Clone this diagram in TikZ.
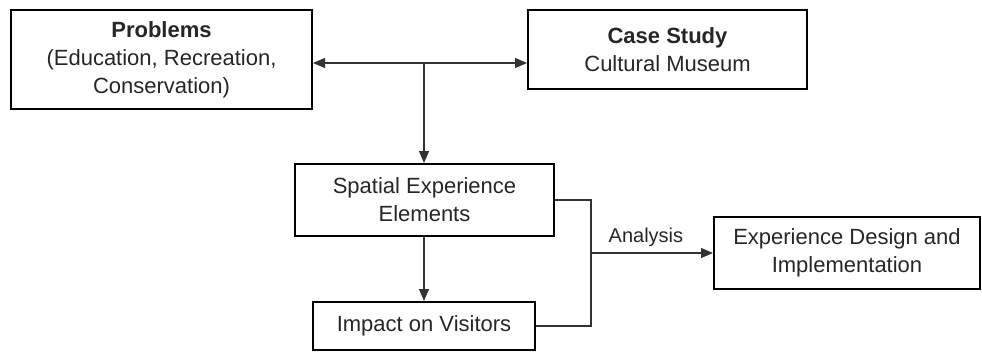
\documentclass[tikz,border=0pt]{standalone}
\usepackage{fontspec}
\setmainfont{Liberation Sans}
\usetikzlibrary{arrows.meta}
\begin{document}
\begin{tikzpicture}[x=1pt,y=-1pt,
  box/.style={draw=black,line width=2pt,align=center,inner sep=0pt,
    font=\fontsize{22}{28}\selectfont,text=black!85},
  conn/.style={draw=black!80,line width=1.1pt},
  arr/.style={conn,-{Triangle[length=12pt,width=10pt]}},
  darr/.style={conn,{Triangle[length=12pt,width=10pt]}-{Triangle[length=12pt,width=10pt]}},
  lbl/.style={font=\fontsize{20}{24}\selectfont,text=black!85}]
\useasboundingbox (0,0) rectangle (982,351);
\node[box,minimum width=301pt,minimum height=99pt] (prob) at (161.5,59.5)
  {\textbf{Problems}\\(Education, Recreation,\\Conservation)};
\node[box,minimum width=279pt,minimum height=79pt] (case) at (667.5,49.5)
  {\textbf{Case Study}\\Cultural Museum};
\node[box,minimum width=259pt,minimum height=72pt] (spat) at (424.5,200)
  {Spatial Experience\\Elements};
\node[box,minimum width=222pt,minimum height=48pt] (imp) at (424,326)
  {Impact on Visitors};
\node[box,minimum width=266pt,minimum height=72pt] (exp) at (847,253)
  {Experience Design and\\Implementation};
\coordinate (j) at (424,63);
\coordinate (k) at (591,253);
\draw[darr] (prob.east |- j) -- (case.west |- j);
\draw[arr] (j) -- (spat.north -| j);
\draw[arr] (spat.south -| j) -- (imp.north -| j);
\draw[conn] (spat.east) -| (k);
\draw[conn] (imp.east) -| (k);
\draw[arr] (k) -- node[lbl,above=2pt,pos=0.45] (an) {Analysis} (exp.west);
\end{tikzpicture}
\end{document}
